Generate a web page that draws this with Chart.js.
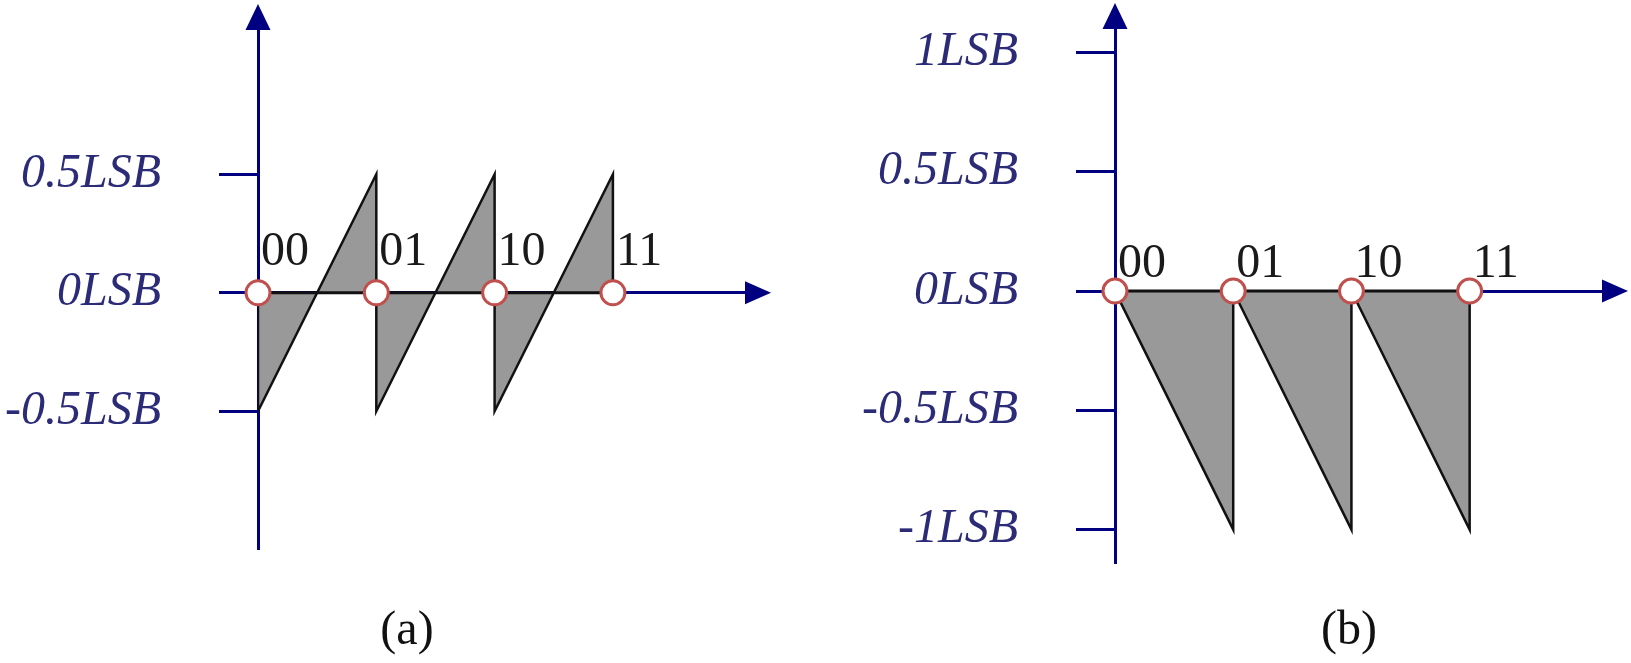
<!DOCTYPE html>
<html>
<head>
<meta charset="utf-8">
<script src="https://cdn.jsdelivr.net/npm/chart.js@4"></script>
<style>
  html, body { margin: 0; padding: 0; background: #fff; }
  body { width: 1631px; height: 663px; position: relative; overflow: hidden; }
  canvas { position: absolute; top: 0; }
  #chartA { left: 0; }
  #chartB { left: 815px; }
  .caption {
    position: absolute;
    top: 604px;
    width: 120px;
    text-align: center;
    font: 48px/48px "Liberation Serif", serif;
    color: #111;
  }
</style>
</head>
<body>
<canvas id="chartA" width="815" height="663"></canvas>
<canvas id="chartB" width="816" height="663"></canvas>
<div class="caption" style="left:347px">(a)</div>
<div class="caption" style="left:1289px">(b)</div>
<script>
// codes on the x axis
const codes = [0, 1, 2, 3];
const codeLabels = ["00", "01", "10", "11"];

// (a) error of a rounding quantizer
const errAx = [0, 0, 1, 1, 2, 2, 3, 3];
const errAy = [0, -0.5, 0.5, -0.5, 0.5, -0.5, 0.5, 0];

// (b) error of a truncating quantizer
const errBx = [0, 1, 1, 2, 2, 3, 3];
const errBy = [0, -1, 0, -1, 0, -1, 0];

// zero line under the codes
const zeroX = [0, 3];
const zeroY = [0, 0];

// y tick values and labels
const yTicksA = [-0.5, 0, 0.5];
const yLabelsA = ["-0.5LSB", "0LSB", "0.5LSB"];
const yTicksB = [-1, -0.5, 0, 0.5, 1];
const yLabelsB = ["-1LSB", "-0.5LSB", "0LSB", "0.5LSB", "1LSB"];

const navy = "#000080";

function zip(xs, ys) {
  return xs.map((x, i) => ({ x: x, y: ys[i] }));
}

// arrowheads on the axes and the code labels above the circles
const extras = {
  id: "extras",
  afterDatasetsDraw(chart, args, opts) {
    const ctx = chart.ctx;
    const area = chart.chartArea;
    const xs = chart.scales.x;
    const ys = chart.scales.y;
    const y0 = ys.getPixelForValue(0);
    ctx.save();
    ctx.fillStyle = navy;
    // y arrow
    ctx.beginPath();
    ctx.moveTo(area.left - 12.5, area.top + 1);
    ctx.lineTo(area.left + 12.5, area.top + 1);
    ctx.lineTo(area.left, area.top - 25);
    ctx.closePath();
    ctx.fill();
    // x arrow
    ctx.beginPath();
    ctx.moveTo(area.right - 1, y0 - 11.5);
    ctx.lineTo(area.right - 1, y0 + 11.5);
    ctx.lineTo(area.right + 25, y0);
    ctx.closePath();
    ctx.fill();
    // code labels
    ctx.fillStyle = "#1a1a1a";
    ctx.font = "48px 'Liberation Serif'";
    ctx.textAlign = "left";
    ctx.textBaseline = "alphabetic";
    codes.forEach((c, i) => {
      ctx.fillText(codeLabels[i], xs.getPixelForValue(c) + 3, y0 - opts.labelLift);
    });
    ctx.restore();
  },
};

function makeConfig(errPoints, yTicks, yLabels, yMin, yMax, xMax, axisWidth, pad, labelLift) {
  return {
    type: "line",
    data: {
      datasets: [
        {
          // circles at the codes
          data: codes.map((c) => ({ x: c, y: 0 })),
          showLine: false,
          pointRadius: 12,
          pointBorderWidth: 3,
          pointBorderColor: "#c0504d",
          pointBackgroundColor: "#ffffff",
          clip: false,
        },
        {
          data: zip(zeroX, zeroY),
          borderColor: "#111111",
          borderWidth: 3,
          pointRadius: 0,
          fill: false,
        },
        {
          data: errPoints,
          borderColor: "#111111",
          borderWidth: 2.5,
          backgroundColor: "#999999",
          fill: "origin",
          pointRadius: 0,
          tension: 0,
        },
      ],
    },
    options: {
      responsive: false,
      animation: false,
      devicePixelRatio: 1,
      events: [],
      layout: { padding: pad },
      plugins: {
        legend: { display: false },
        tooltip: { enabled: false },
        extras: { labelLift: labelLift },
      },
      scales: {
        x: {
          type: "linear",
          min: 0,
          max: xMax,
          position: { y: 0 },
          ticks: { display: false },
          grid: { display: false },
          border: { color: navy, width: 3 },
          afterFit: (s) => {
            s.height = 0;
            s.paddingLeft = 0;
            s.paddingRight = 0;
          },
        },
        y: {
          type: "linear",
          min: yMin,
          max: yMax,
          position: "left",
          afterBuildTicks: (s) => {
            s.ticks = yTicks.map((v) => ({ value: v }));
          },
          ticks: {
            padding: 58,
            color: "#2b2b78",
            font: { family: "Liberation Serif", size: 48, style: "italic" },
            callback: (v, i) => yLabels[i],
          },
          grid: {
            drawOnChartArea: false,
            drawTicks: true,
            tickLength: 39,
            color: navy,
            lineWidth: 3,
          },
          border: { color: navy, width: 3 },
          afterFit: (s) => {
            s.width = axisWidth;
            s.paddingTop = 0;
            s.paddingBottom = 0;
          },
        },
      },
    },
    plugins: [extras],
  };
}

const chartA = new Chart(
  document.getElementById("chartA"),
  makeConfig(zip(errAx, errAy), yTicksA, yLabelsA, -1.077, 1.113, 4.125, 258,
    { left: 0, top: 29, right: 69, bottom: 115 }, 28)
);

const chartB = new Chart(
  document.getElementById("chartB"),
  makeConfig(zip(errBx, errBy), yTicksB, yLabelsB, -1.136, 1.103, 4.128, 300,
    { left: 0, top: 28, right: 28, bottom: 101 }, 14)
);
</script>
</body>
</html>
